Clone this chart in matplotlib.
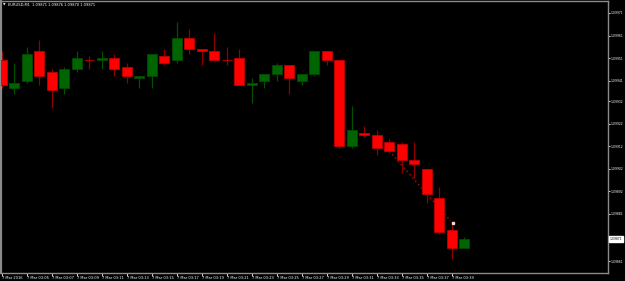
# EURUSD M1 candles, 7 Mar 2016 (MT4 style screenshot)
import numpy as np
import matplotlib.pyplot as plt

# data, one candle per minute starting 03:03
opens = [1.09950, 1.09938, 1.09941, 1.09954, 1.09945, 1.09938, 1.09946, 1.09950,
         1.09950, 1.09951, 1.09947, 1.09942, 1.09943, 1.09952, 1.09950, 1.09960,
         1.09955, 1.09954, 1.09950, 1.09951, 1.09939, 1.09941, 1.09944, 1.09948,
         1.09941, 1.09944, 1.09954, 1.09950, 1.09912, 1.09918, 1.09917, 1.09914,
         1.09913, 1.09906, 1.09902, 1.09889, 1.09875, 1.09867]
highs = [1.09954, 1.09949, 1.09956, 1.09959, 1.09946, 1.09947, 1.09954, 1.09952,
         1.09954, 1.09953, 1.09949, 1.09943, 1.09953, 1.09955, 1.09967, 1.09964,
         1.09955, 1.09962, 1.09956, 1.09955, 1.09942, 1.09944, 1.09949, 1.09948,
         1.09944, 1.09954, 1.09954, 1.09950, 1.09930, 1.09921, 1.09919, 1.09915,
         1.09914, 1.09914, 1.09902, 1.09894, 1.09878, 1.09872]
lows = [1.09938, 1.09935, 1.09940, 1.09939, 1.09929, 1.09935, 1.09945, 1.09946,
        1.09946, 1.09943, 1.09940, 1.09938, 1.09938, 1.09948, 1.09949, 1.09953,
        1.09948, 1.09950, 1.09948, 1.09939, 1.09931, 1.09938, 1.09941, 1.09935,
        1.09939, 1.09943, 1.09948, 1.09911, 1.09911, 1.09916, 1.09908, 1.09909,
        1.09900, 1.09898, 1.09887, 1.09873, 1.09862, 1.09867]
closes = [1.09939, 1.09940, 1.09953, 1.09943, 1.09937, 1.09946, 1.09951, 1.09950,
          1.09951, 1.09946, 1.09943, 1.09943, 1.09953, 1.09949, 1.09960, 1.09955,
          1.09954, 1.09950, 1.09950, 1.09939, 1.09940, 1.09944, 1.09948, 1.09942,
          1.09944, 1.09954, 1.09950, 1.09912, 1.09919, 1.09917, 1.09911, 1.09910,
          1.09906, 1.09904, 1.09891, 1.09874, 1.09867, 1.09871]

price_ticks = [1.09971, 1.09961, 1.09951, 1.09941, 1.09932, 1.09922,
               1.09912, 1.09902, 1.09892, 1.09882, 1.09871, 1.09861]
time_labels = ['7 Mar 2016', '7 Mar 03:05', '7 Mar 03:07', '7 Mar 03:09', '7 Mar 03:11',
               '7 Mar 03:13', '7 Mar 03:15', '7 Mar 03:17', '7 Mar 03:19', '7 Mar 03:21',
               '7 Mar 03:23', '7 Mar 03:25', '7 Mar 03:27', '7 Mar 03:29', '7 Mar 03:31',
               '7 Mar 03:33', '7 Mar 03:35', '7 Mar 03:37', '7 Mar 03:39']
title = 'EURUSD,M1  1.09871 1.09876 1.09870 1.09871'
last_price = 1.09871

# trade line (dotted) drawn by the terminal
trade_x = [31.0, 35.9]
trade_y = [1.09910, 1.09879]

o = np.array(opens)
h = np.array(highs)
l = np.array(lows)
c = np.array(closes)
x = np.arange(len(o))
bull = c > o

fig = plt.figure(figsize=(6.25, 2.81), dpi=100, facecolor='black')
ax = fig.add_axes([0.0016, 0.0295, 0.9712, 0.9669], facecolor='black')

wick_col = np.where(bull, '#005000', '#900000')
ax.vlines(x, l, h, colors=wick_col, lw=0.9, zorder=2)
body_col = np.where(bull, '#006400', '#ff0000')
edge_col = np.where(bull, '#004a00', '#c00000')
ax.bar(x, np.abs(c - o), bottom=np.minimum(o, c), width=0.8,
       color=body_col, edgecolor=edge_col, lw=0.6, zorder=3)

ax.plot(trade_x, trade_y, ls=':', color='#a00000', lw=1.2, zorder=1)
ax.plot([36.1], [1.09878], marker='s', ms=1.6, color='#ffd0d0', zorder=4)

ax.set_xlim(-0.05, 48.51)
ax.set_ylim(1.098560, 1.099763)

ax.yaxis.tick_right()
ax.set_yticks(price_ticks)
ax.set_yticklabels([f'{p:.5f}' for p in price_ticks])
ax.set_xticks(x[::2][:len(time_labels)])
ax.set_xticklabels(time_labels, ha='left')
ax.tick_params(colors='white', labelsize=2.6, length=2, width=0.6, pad=0.5)
ax.tick_params(axis='y', labelsize=2.2, length=1.5, pad=0.6)
for lab in ax.get_yticklabels():
    if lab.get_text() == f'{last_price:.5f}':
        lab.set_visible(False)

for s in ax.spines.values():
    s.set_color('#8a8a8a')
    s.set_linewidth(1.0)
ax.spines['left'].set_linewidth(1.6)

# current price box on the price scale
ax.text(1.0025, last_price, f'{last_price:.5f}', transform=ax.get_yaxis_transform(),
        fontsize=2.2, color='black', va='center', ha='left', clip_on=False,
        bbox=dict(boxstyle='square,pad=0.25', fc='white', ec='white'))

fig.text(0.004, 0.982, '\u25bc', color='white', fontsize=2.3, va='center')
fig.text(0.012, 0.982, title, color='white', fontsize=2.6, va='center')

fig.savefig('out.png', dpi=100, facecolor='black')
